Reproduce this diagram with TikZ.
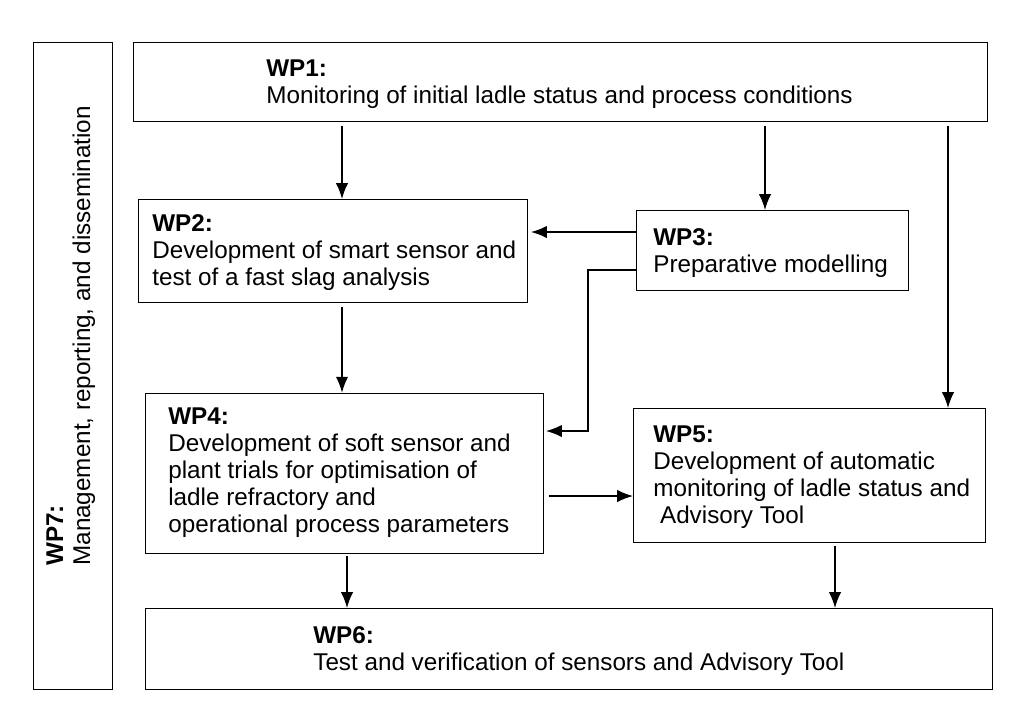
\documentclass[tikz,border=0pt]{standalone}
\usepackage{fontspec}
\setmainfont{Liberation Sans}
\usetikzlibrary{positioning,arrows.meta}
\tikzset{
  box/.style={draw, thin, anchor=north west, inner sep=0pt},
  lbl/.style={anchor=north west, align=left, inner sep=0pt, font=\fontsize{13.8}{15.4}\selectfont},
  arr/.style={-{Latex[length=9pt,width=7pt]}, thick}
}
\begin{document}
\begin{tikzpicture}[x=0.02cm, y=-0.02cm]
  \useasboundingbox (0,0) rectangle (1024,724);
  % boxes
  \node[box, minimum width=79*0.02cm, minimum height=647*0.02cm] (wp7) at (33,42) {};
  \node[box, minimum width=854*0.02cm, minimum height=79*0.02cm] (wp1) at (133,42) {};
  \node[box, minimum width=389*0.02cm, minimum height=103*0.02cm] (wp2) at (138,199) {};
  \node[box, minimum width=272*0.02cm, minimum height=80*0.02cm] (wp3) at (636,210) {};
  \node[box, minimum width=398*0.02cm, minimum height=160*0.02cm] (wp4) at (145,393) {};
  \node[box, minimum width=352*0.02cm, minimum height=134*0.02cm] (wp5) at (633,408) {};
  \node[box, minimum width=847*0.02cm, minimum height=81*0.02cm] (wp6) at (145,608) {};
  % texts
  \node[lbl] (t1) at (266,59) {\textbf{WP1:}\\Monitoring of initial ladle status and process conditions};
  \node[lbl] (t2) at (152,214) {\textbf{WP2:}\\Development of smart sensor and\\test of a fast slag analysis};
  \node[lbl] (t3) at (653,228) {\textbf{WP3:}\\Preparative modelling};
  \node[lbl] (t4) at (168,407) {\textbf{WP4:}\\Development of soft sensor and\\plant trials for optimisation of\\ladle refractory and\\operational process parameters};
  \node[lbl] (t5) at (653,425) {\textbf{WP5:}\\Development of automatic\\monitoring of ladle status and\\\ Advisory Tool};
  \node[lbl] (t6) at (313,626) {\textbf{WP6:}\\Test and verification of sensors and Advisory Tool};
  \node[lbl, rotate=90] (t7) at (46,566) {\textbf{WP7:}\\Management, reporting, and dissemination};
  % arrows
  \draw[arr] (wp1.south -| 342,0) ++(0,4) -- (wp2.north -| 342,0);
  \draw[arr] (wp1.south -| 765,0) ++(0,4) -- (wp3.north -| 765,0);
  \draw[arr] (wp1.south -| 948,0) ++(0,4) -- (wp5.north -| 948,0);
  \draw[arr] (wp3.west |- 0,232) -- ++(-105,0);
  \draw[arr] (wp3.west |- 0,270) -- (588,270) -- (588,431) -- ++(-42,0);
  \draw[arr] (wp2.south -| 342,0) ++(0,4) -- ++(0,86);
  \draw[arr] (wp4.east |- 0,496) ++(5,0) -- (wp5.west |- 0,496);
  \draw[arr] (wp4.south -| 347,0) ++(0,2) -- (wp6.north -| 347,0);
  \draw[arr] (wp5.south -| 835,0) ++(0,3) -- (wp6.north -| 835,0);
\end{tikzpicture}
\end{document}
